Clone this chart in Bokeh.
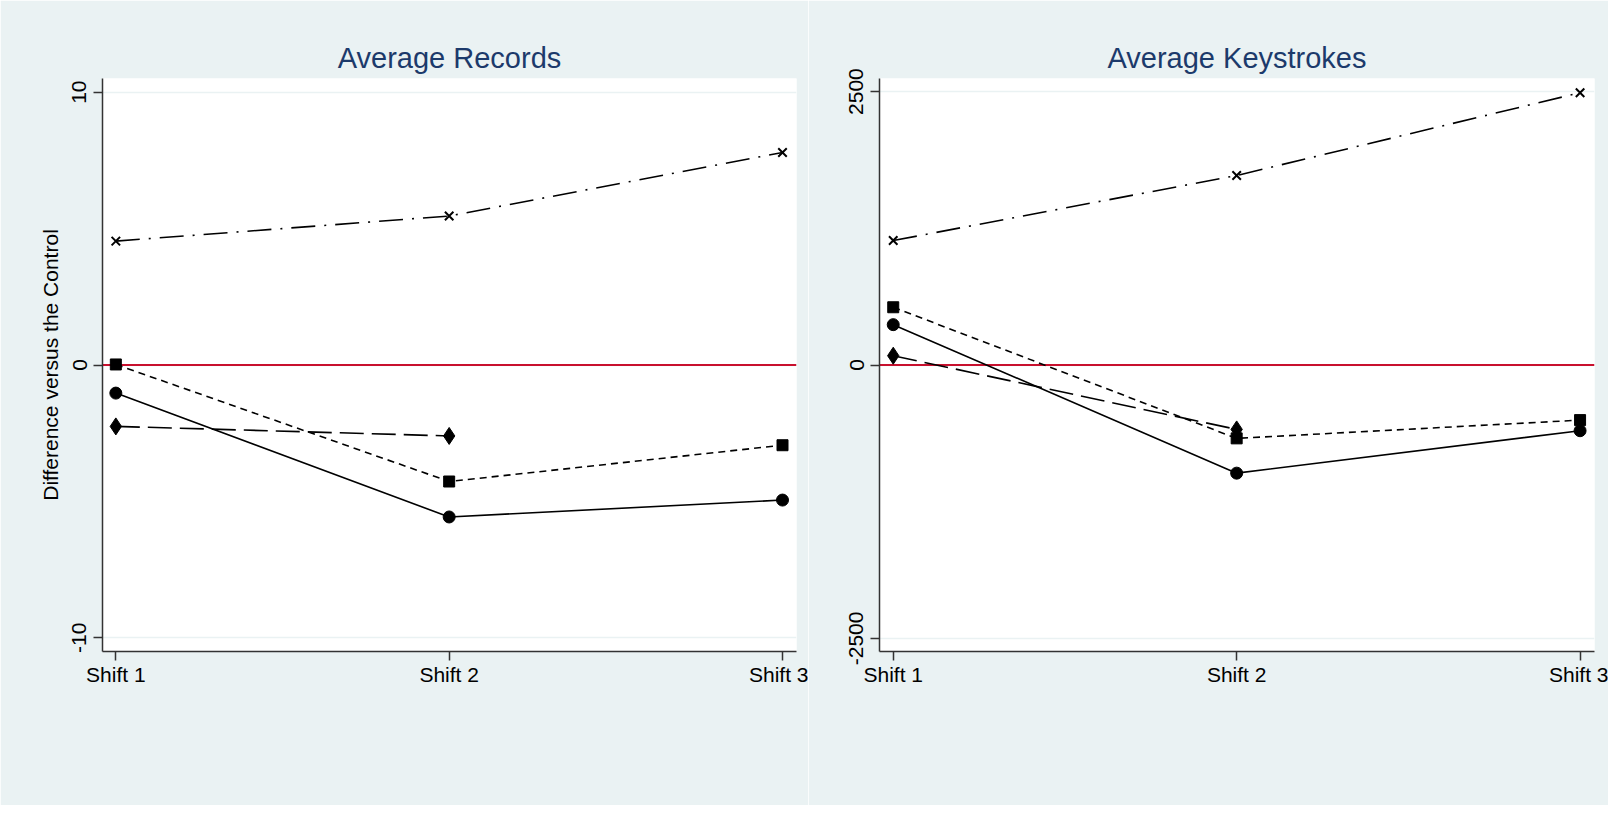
from bokeh.plotting import figure
from bokeh.models import FixedTicker, Legend, LegendItem, Span
from bokeh.layouts import row
from bokeh.embed import file_html
from bokeh.resources import INLINE

# ---------------- data ----------------
shifts = [1, 2, 3]
shift_labels = ["Shift 1", "Shift 2", "Shift 3"]
series_names = ["Surprise $8Gift (20S,20,20)", "Surprise $6 Gift", "All $8 Gifts", "PieceRate"]

rec_surprise8 = [-1.03, -5.57, -4.95]
rec_surprise6 = [-2.25, -2.6]
rec_all8 = [0.02, -4.27, -2.94]
rec_piece = [4.54, 5.46, 7.79]

key_surprise8 = [369, -989, -601]
key_surprise6 = [85, -589]
key_all8 = [528, -671, -504]
key_piece = [1138, 1733, 2490]

rec_ticks = [-10, 0, 10]
rec_tick_labels = ["-10", "0", "10"]
key_ticks = [-2500, 0, 2500]
key_tick_labels = ["-2500", "0", "2500"]

# ---------------- style ----------------
BG = "#eaf2f3"
NAVY = "#1c3a6b"
FONT = "Liberation Sans"
styles = [
    dict(marker="circle", size=12, dash="solid"),
    dict(marker="diamond", size=17, dash="24 8"),
    dict(marker="square", size=11, dash="7 5"),
    dict(marker="x", size=12, dash="24 9 2 9"),
]
legend_order = [0, 2, 1, 3]   # column-major fill -> rows (0,1), (2,3)


def make_panel(title, series, ticks, tick_labels, yrange, width, mbl, mbr, ylabel, leg_x):
    p = figure(width=width, height=805, x_range=(0.96, 3.042), y_range=yrange,
               output_backend="svg", toolbar_location=None,
               min_border_left=mbl, min_border_right=mbr,
               min_border_top=78, min_border_bottom=154,
               background_fill_color="white", border_fill_color=BG,
               outline_line_color=None)
    p.title.text = title
    p.title.text_font = FONT
    p.title.text_font_size = "29px"
    p.title.text_font_style = "normal"
    p.title.text_color = NAVY
    p.title.align = "center"

    p.xgrid.visible = False
    p.ygrid.ticker = FixedTicker(ticks=ticks)
    p.ygrid.grid_line_color = BG
    p.ygrid.grid_line_width = 1.5

    p.add_layout(Span(location=0, dimension="width", line_color="#c8102e",
                      line_width=2, level="underlay"))

    items = []
    for name, ys, st in zip(series_names, series, styles):
        xs = shifts[:len(ys)]
        lr = p.line(xs, ys, line_color="black", line_width=1.6, line_dash=st["dash"])
        if st["marker"] == "x":
            sr = p.scatter(xs, ys, marker="x", size=st["size"], line_color="black", line_width=2)
        else:
            sr = p.scatter(xs, ys, marker=st["marker"], size=st["size"], fill_color="black",
                           line_color="black")
        items.append(LegendItem(label=name, renderers=[lr, sr]))

    for ax in (p.xaxis[0], p.yaxis[0]):
        ax.axis_line_color = "#333333"
        ax.axis_line_width = 1.5
        ax.major_tick_line_color = "#333333"
        ax.major_tick_line_width = 1.5
        ax.major_tick_in = 0
        ax.major_tick_out = 9
        ax.minor_tick_line_color = None
        ax.major_label_text_font = FONT
        ax.major_label_text_font_size = "21px"
        ax.major_label_text_color = "black"

    p.xaxis.ticker = FixedTicker(ticks=shifts)
    p.xaxis.major_label_overrides = {s: l for s, l in zip(shifts, shift_labels)}
    p.xaxis.major_label_standoff = 2

    p.yaxis.ticker = FixedTicker(ticks=ticks)
    p.yaxis.major_label_overrides = {t: l for t, l in zip(ticks, tick_labels)}
    p.yaxis.major_label_orientation = "vertical"
    p.yaxis.major_label_standoff = 7
    if ylabel:
        p.yaxis.axis_label = ylabel
        p.yaxis.axis_label_text_font = FONT
        p.yaxis.axis_label_text_font_size = "21px"
        p.yaxis.axis_label_text_font_style = "normal"
        p.yaxis.axis_label_text_color = "black"
        p.yaxis.axis_label_standoff = 8

    leg = Legend(items=[items[i] for i in legend_order], ncols=2,
                 location=(leg_x, -120),
                 glyph_width=78, glyph_height=20, label_height=20,
                 label_standoff=40, spacing=14, padding=8, margin=0,
                 border_line_color="black", border_line_width=1,
                 background_fill_color="white", background_fill_alpha=1,
                 label_text_font=FONT, label_text_font_size="21px",
                 label_text_color="black")
    p.add_layout(leg, "center")
    return p


p1 = make_panel("Average Records",
                [rec_surprise8, rec_surprise6, rec_all8, rec_piece],
                rec_ticks, rec_tick_labels, (-10.5, 10.5), 808, 102, 12,
                "Difference versus the Control", 10)
p2 = make_panel("Average Keystrokes",
                [key_surprise8, key_surprise6, key_all8, key_piece],
                key_ticks, key_tick_labels, (-2620, 2620), 800, 71, 14, None, 20)

layout = row(p1, p2)
open("out.html", "w").write(file_html(layout, INLINE))
